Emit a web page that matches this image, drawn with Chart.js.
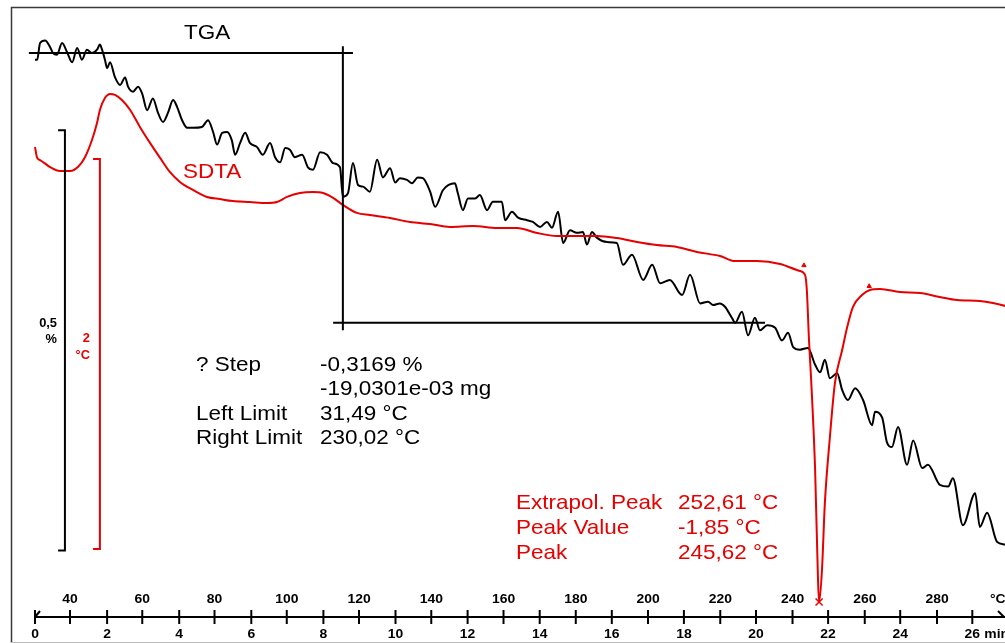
<!DOCTYPE html>
<html lang="de">
<head>
<meta charset="UTF-8">
<title>TGA / SDTA</title>
<script src="https://cdn.jsdelivr.net/npm/chart.js"></script>
<style>
  body { margin: 0; background: #fff; }
  canvas { display: block; }
</style>
</head>
<body>
<canvas id="chart" width="1005" height="643"></canvas>
<script>
// time axis (min) and temperature axis (°C)
const timeTicks = [0, 2, 4, 6, 8, 10, 12, 14, 16, 18, 20, 22, 24, 26];
const tempTicks = [40, 60, 80, 100, 120, 140, 160, 180, 200, 220, 240, 260, 280];

// TGA: mass change in % vs time in min
const tgaTime = [0.00, 0.06, 0.14, 0.28, 0.42, 0.50, 0.61, 0.75, 0.89, 1.03, 1.17, 1.30, 1.44, 1.58, 1.72, 1.80, 1.86, 1.94, 2.00, 2.08,
  2.22, 2.36, 2.50, 2.58, 2.72, 2.86, 2.97, 3.11, 3.27, 3.41, 3.55, 3.69, 3.83, 3.94, 4.08, 4.22, 4.38, 4.63, 4.80, 4.94,
  5.05, 5.19, 5.33, 5.46, 5.55, 5.69, 5.83, 5.96, 6.16, 6.32, 6.52, 6.66, 6.80, 6.94, 7.07, 7.21, 7.41, 7.57, 7.71, 7.91,
  8.10, 8.27, 8.46, 8.54, 8.68, 8.82, 8.96, 9.10, 9.29, 9.49, 9.65, 9.85, 9.99, 10.12, 10.32, 10.46, 10.62, 10.76, 10.96, 11.10,
  11.32, 11.65, 11.73, 11.87, 12.01, 12.21, 12.34, 12.54, 12.70, 12.95, 13.04, 13.23, 13.40, 13.65, 13.81, 14.01, 14.20, 14.34, 14.51, 14.65,
  14.84, 15.03, 15.20, 15.31, 15.45, 15.59, 15.87, 16.14, 16.31, 16.56, 16.87, 17.12, 17.34, 17.61, 17.95, 18.17, 18.45, 18.67, 18.81, 19.00,
  19.14, 19.33, 19.42, 19.61, 19.78, 19.97, 20.11, 20.31, 20.53, 20.72, 20.89, 21.03, 21.22, 21.44, 21.64, 21.78, 21.91, 22.05, 22.25, 22.39,
  22.55, 22.75, 22.97, 23.22, 23.30, 23.50, 23.63, 23.77, 23.94, 24.19, 24.36, 24.61, 24.77, 25.10, 25.33, 25.46, 25.74, 26.08, 26.21, 26.41,
  26.69, 26.91, 27.10];
const tgaMass = [-0.008, -0.008, 0.012, 0.015, 0.007, 0.000, -0.002, 0.012, 0.001, -0.011, 0.006, -0.008, 0.004, 0.000, 0.004, 0.010, 0.004, -0.008, -0.018, -0.011,
  -0.029, -0.038, -0.029, -0.040, -0.046, -0.040, -0.048, -0.068, -0.054, -0.071, -0.082, -0.071, -0.056, -0.064, -0.080, -0.089, -0.089, -0.088, -0.080, -0.094,
  -0.109, -0.095, -0.094, -0.104, -0.121, -0.107, -0.095, -0.107, -0.112, -0.121, -0.107, -0.124, -0.130, -0.113, -0.115, -0.124, -0.121, -0.136, -0.139, -0.118,
  -0.121, -0.131, -0.136, -0.171, -0.167, -0.131, -0.157, -0.159, -0.165, -0.127, -0.148, -0.137, -0.154, -0.149, -0.151, -0.155, -0.148, -0.149, -0.165, -0.183,
  -0.163, -0.155, -0.167, -0.187, -0.173, -0.173, -0.169, -0.187, -0.177, -0.177, -0.199, -0.189, -0.196, -0.199, -0.201, -0.207, -0.201, -0.208, -0.189, -0.226,
  -0.211, -0.214, -0.213, -0.228, -0.213, -0.220, -0.225, -0.226, -0.252, -0.240, -0.270, -0.252, -0.274, -0.270, -0.288, -0.264, -0.298, -0.296, -0.300, -0.298,
  -0.302, -0.315, -0.321, -0.308, -0.336, -0.315, -0.330, -0.324, -0.327, -0.342, -0.333, -0.350, -0.353, -0.351, -0.371, -0.380, -0.365, -0.387, -0.381, -0.401,
  -0.413, -0.399, -0.413, -0.443, -0.427, -0.434, -0.463, -0.469, -0.445, -0.490, -0.461, -0.494, -0.490, -0.514, -0.516, -0.506, -0.562, -0.524, -0.564, -0.547,
  -0.582, -0.585, -0.589];

// SDTA: temperature difference in °C vs time in min
const sdtaTime = [0.00, 0.06, 0.14, 0.42, 0.69, 0.97, 1.19, 1.39, 1.58, 1.72, 1.80, 1.94, 2.08, 2.22, 2.41, 2.64, 2.91, 3.19, 3.47, 3.74,
  4.02, 4.38, 4.77, 5.13, 5.49, 5.96, 6.44, 6.71, 6.99, 7.35, 7.71, 7.99, 8.27, 8.54, 8.93, 9.29, 9.85, 10.40, 10.96, 11.51,
  12.15, 12.82, 13.37, 13.93, 14.48, 15.03, 15.59, 16.14, 16.70, 17.25, 17.81, 18.36, 19.00, 19.42, 20.03, 20.67, 21.22, 21.36, 21.41, 21.47,
  21.53, 21.64, 21.72, 21.75, 21.83, 21.91, 22.05, 22.19, 22.39, 22.53, 22.69, 22.94, 23.16, 23.44, 23.99, 24.55, 25.10, 25.58, 26.21, 26.57,
  26.91, 27.10];
const sdtaTemp = [0.482, 0.426, 0.415, 0.379, 0.359, 0.359, 0.379, 0.431, 0.518, 0.605, 0.672, 0.733, 0.754, 0.749, 0.723, 0.672, 0.585, 0.503, 0.426, 0.354,
  0.303, 0.262, 0.226, 0.215, 0.205, 0.200, 0.195, 0.200, 0.226, 0.246, 0.251, 0.246, 0.221, 0.185, 0.144, 0.133, 0.118, 0.097, 0.087, 0.072,
  0.077, 0.067, 0.067, 0.041, 0.026, 0.026, 0.026, 0.015, -0.005, -0.021, -0.031, -0.056, -0.077, -0.103, -0.103, -0.118, -0.154, -0.174, -0.251, -0.508,
  -0.713, -1.174, -1.738, -1.851, -1.687, -1.344, -1.005, -0.728, -0.559, -0.441, -0.338, -0.277, -0.251, -0.246, -0.262, -0.267, -0.287, -0.303, -0.308, -0.318,
  -0.333, -0.344];

// step evaluation (TGA)
const stepUpper = 0.000, stepLower = -0.321, stepTime = 8.54;
const stepUpperRange = [-0.17, 8.82], stepLowerRange = [8.27, 20.25], stepVertRange = [0.008, -0.330];
// peak evaluation (SDTA)
const peakTime = 21.75, peakValue = -1.851;
const limitMarkTime = [21.33, 23.14], limitMarkValue = [-0.125, -0.232];
// scale bars: 0,5 % and 2 °C
const tgaBarTop = -0.092, tgaBarSpan = 0.5, tgaBarTime = [0.64, 0.83];
const sdtaBarTop = 0.420, sdtaBarSpan = 2, sdtaBarTime = [1.61, 1.80];

const RED = '#e60000';
const FONT = '"Liberation Sans", Arial, sans-serif';

const pts = (xs, ys) => xs.map((x, i) => ({ x: x, y: ys[i] }));
const lineSet = (data, color, width, axis) => ({
  data: data, borderColor: color, borderWidth: width, pointRadius: 0,
  tension: 0, fill: false, yAxisID: axis
});

const tgaSet = lineSet(pts(tgaTime, tgaMass), '#000', 2, 'y');
tgaSet.cubicInterpolationMode = 'monotone';
const sdtaSet = lineSet(pts(sdtaTime, sdtaTemp), RED, 2, 'y2');
sdtaSet.cubicInterpolationMode = 'monotone';

const datasets = [
  lineSet([{ x: stepUpperRange[0], y: stepUpper }, { x: stepUpperRange[1], y: stepUpper }], '#000', 2, 'y'),
  lineSet([{ x: stepLowerRange[0], y: stepLower }, { x: stepLowerRange[1], y: stepLower }], '#000', 2, 'y'),
  lineSet([{ x: stepTime, y: stepVertRange[0] }, { x: stepTime, y: stepVertRange[1] }], '#000', 2, 'y'),
  lineSet([{ x: tgaBarTime[0], y: tgaBarTop }, { x: tgaBarTime[1], y: tgaBarTop },
           { x: tgaBarTime[1], y: tgaBarTop - tgaBarSpan }, { x: tgaBarTime[0], y: tgaBarTop - tgaBarSpan }], '#000', 2, 'y'),
  lineSet([{ x: sdtaBarTime[0], y: sdtaBarTop }, { x: sdtaBarTime[1], y: sdtaBarTop },
           { x: sdtaBarTime[1], y: sdtaBarTop - sdtaBarSpan }, { x: sdtaBarTime[0], y: sdtaBarTop - sdtaBarSpan }], RED, 2, 'y2'),
  sdtaSet,
  tgaSet,
  {
    data: [{ x: peakTime, y: peakValue }], showLine: false, yAxisID: 'y2',
    pointStyle: 'crossRot', pointRadius: 5, borderColor: RED, borderWidth: 1.5
  },
  {
    data: pts(limitMarkTime, limitMarkValue), showLine: false, yAxisID: 'y2',
    pointStyle: 'triangle', pointRadius: 2.5, backgroundColor: RED, borderColor: RED, borderWidth: 1
  }
];

function txt(ctx, s, x, y, color, font, align) {
  ctx.save();
  ctx.fillStyle = color;
  ctx.font = font;
  ctx.textAlign = align || 'left';
  ctx.textBaseline = 'middle';
  ctx.translate(x, y);
  ctx.scale(1.07, 1);
  ctx.fillText(s, 0, 0);
  ctx.restore();
}

const overlay = {
  id: 'overlay',
  afterDraw(chart) {
    const ctx = chart.ctx;
    const xs = chart.scales.x, xT = chart.scales.xT;
    const yb = chart.chartArea.bottom;
    ctx.save();

    // frame
    ctx.strokeStyle = '#3a3a3a';
    ctx.lineWidth = 1.5;
    ctx.beginPath();
    ctx.moveTo(11.5, 643); ctx.lineTo(11.5, 7.5); ctx.lineTo(1005, 7.5);
    ctx.stroke();
    ctx.strokeStyle = '#bbb';
    ctx.lineWidth = 1;
    ctx.beginPath(); ctx.moveTo(11, 642.5); ctx.lineTo(1005, 642.5); ctx.stroke();

    // axis line with time and temperature ticks
    const x0 = xs.getPixelForValue(0);
    ctx.strokeStyle = '#000';
    ctx.lineWidth = 2;
    ctx.beginPath(); ctx.moveTo(x0, yb); ctx.lineTo(1005, yb); ctx.stroke();
    ctx.beginPath(); ctx.moveTo(x0, yb); ctx.lineTo(x0 + 5, yb - 6); ctx.stroke();
    ctx.beginPath(); ctx.moveTo(998, yb - 6); ctx.lineTo(1004, yb); ctx.stroke();
    const bold = 'bold 13px ' + FONT;
    timeTicks.forEach(v => {
      const x = xs.getPixelForValue(v);
      ctx.beginPath(); ctx.moveTo(x, yb - 7); ctx.lineTo(x, yb + 7); ctx.stroke();
      txt(ctx, String(v), x, yb + 17, '#000', bold, 'center');
    });
    tempTicks.forEach(v => {
      const x = xT.getPixelForValue(v);
      ctx.beginPath(); ctx.moveTo(x, yb - 7); ctx.lineTo(x, yb + 7); ctx.stroke();
      txt(ctx, String(v), x, yb - 18, '#000', bold, 'center');
    });
    txt(ctx, 'min', xs.getPixelForValue(26) + 12, yb + 17, '#000', bold);
    txt(ctx, '°C', 990, yb - 18, '#000', bold);

    // scale bar labels
    const small = 'bold 12px ' + FONT;
    txt(ctx, '0,5', 57, 324, '#000', small, 'right');
    txt(ctx, '%', 57, 340, '#000', small, 'right');
    txt(ctx, '2', 90, 339, RED, small, 'right');
    txt(ctx, '°C', 90, 356, RED, small, 'right');

    // curve names
    const big = '21px ' + FONT;
    txt(ctx, 'TGA', 184, 33, '#000', big);
    txt(ctx, 'SDTA', 183, 172, RED, big);

    // step result
    const rowsL = ['? Step', '', 'Left Limit', 'Right Limit'];
    const rowsR = ['-0,3169 %', '-19,0301e-03 mg', '31,49 °C', '230,02 °C'];
    rowsL.forEach((s, i) => {
      txt(ctx, s, 196, 365 + i * 24.5, '#000', big);
      txt(ctx, rowsR[i], 320, 365 + i * 24.5, '#000', big);
    });
    // peak result
    const peakL = ['Extrapol. Peak', 'Peak Value', 'Peak'];
    const peakR = ['252,61 °C', '-1,85 °C', '245,62 °C'];
    peakL.forEach((s, i) => {
      txt(ctx, s, 516, 503 + i * 25, RED, big);
      txt(ctx, peakR[i], 678, 503 + i * 25, RED, big);
    });
    ctx.restore();
  }
};

new Chart(document.getElementById('chart'), {
  type: 'line',
  data: { datasets: datasets },
  options: {
    responsive: false,
    animation: false,
    events: [],
    layout: { autoPadding: false, padding: { left: 0, right: 0, top: 0, bottom: 26 } },
    scales: {
      x: { type: 'linear', min: -0.971, max: 26.907, display: false },
      xT: { type: 'linear', axis: 'x', min: 20.62, max: 298.82, display: false },
      y: { type: 'linear', min: -0.6712, max: 0.0631, display: false },
      y2: { type: 'linear', min: -1.9282, max: 1.2359, display: false }
    },
    plugins: { legend: { display: false }, tooltip: { enabled: false } }
  },
  plugins: [overlay]
});
</script>
</body>
</html>
